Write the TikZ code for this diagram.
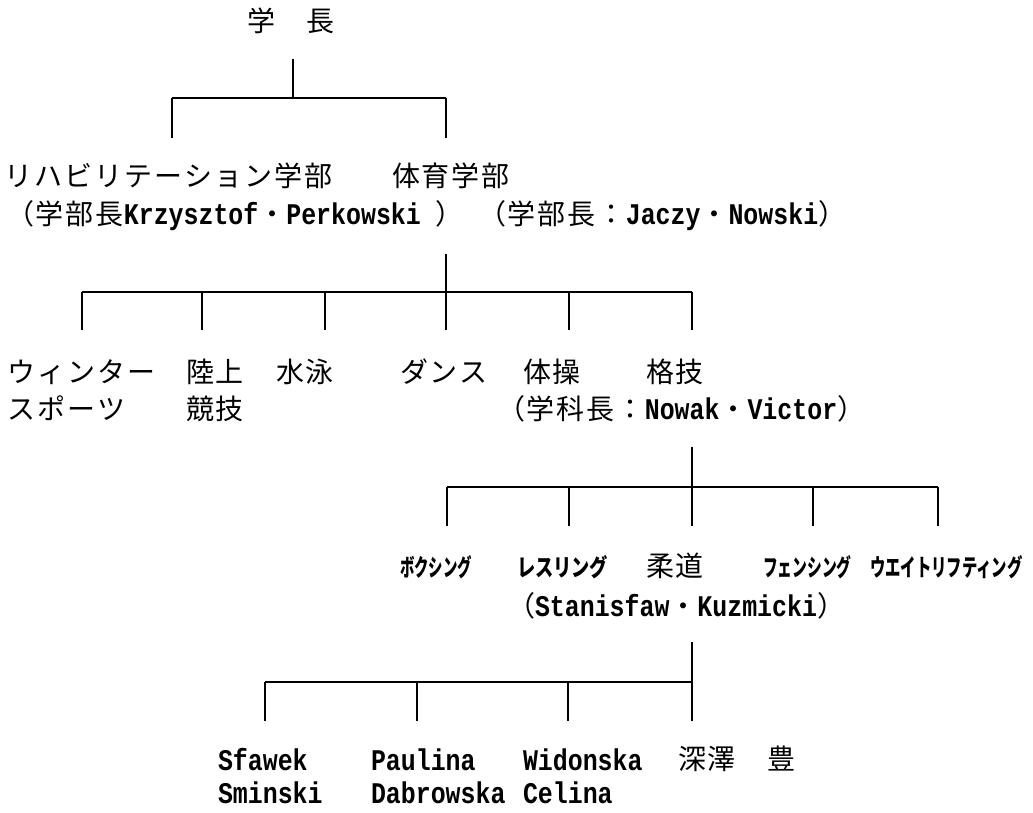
\documentclass[tikz,border=0pt]{standalone}
\usepackage{graphicx}
\usepackage{fontspec}
\newfontfamily\jpf[LetterSpace=7]{Noto Sans CJK JP}
\newfontfamily\jpk{Noto Sans CJK JP}
\newfontfamily\latf[FakeStretch=0.83]{Liberation Mono}
\newcommand\J[1]{{\jpf\fontsize{28}{30}\selectfont #1}}
\newcommand\LT[1]{{\latf\bfseries\fontsize{30}{32}\selectfont #1}}
\newcommand\KN[2]{\scalebox{#1}[1]{\jpk\bfseries\fontsize{24}{26}\selectfont #2}}
\begin{document}
\begin{tikzpicture}[x=1pt,y=-1pt,
  txt/.style={anchor=base west,inner sep=0pt,outer sep=0pt},
  bus/.style={draw=black,line width=1.3pt},
  drop/.style={draw=black,line width=2pt}]
\fill[white] (0,0) rectangle (1033,813);
\useasboundingbox (0,0) rectangle (1033,813);

% ---- level 0
\node[txt] (boss) at (247,32) {\J{学　長}};
\coordinate (b0) at (293,59);
\coordinate (j0) at (293,98);
\coordinate (a1) at (172,98);
\coordinate (a2) at (446,98);
\coordinate (e1) at (172,138);
\coordinate (e2) at (446,138);
\draw[drop] (b0) -- (j0);
\draw[bus] (a1) -- (a2);
\draw[drop] (a1) -- (e1);
\draw[drop] (a2) -- (e2);

% ---- level 1
\node[txt] (rehab) at (5,186) {\J{リハビリテーション学部}};
\node[txt] (rehabhead) at (6,225) {\J{（学部長}\LT{Krzysztof}\J{・}\LT{Perkowski }\J{）}};
\node[txt] (taiiku) at (392,186) {\J{体育学部}};
\node[txt] (taiikuhead) at (478,225) {\J{（学部長：}\LT{Jaczy}\J{・}\LT{Nowski}\J{）}};

\coordinate (t0) at (446,254);
\foreach \n/\x in {1/82,2/202,3/325,4/446,5/569,6/692} {
  \coordinate (u\n) at (\x,292);
  \coordinate (d\n) at (\x,330);
}
\draw[drop] (t0) -- (u4);
\draw[bus] (u1) -- (u6);
\foreach \n in {1,...,6} \draw[drop] (u\n) -- (d\n);

% ---- level 2
\node[txt] (winter) at (8,382) {\J{ウィンター}};
\node[txt] (winter2) at (8,419) {\J{スポーツ}};
\node[txt] (track) at (186,382) {\J{陸上}};
\node[txt] (track2) at (186,419) {\J{競技}};
\node[txt] (swim) at (276,382) {\J{水泳}};
\node[txt] (dance) at (400,382) {\J{ダンス}};
\node[txt] (gym) at (523,382) {\J{体操}};
\node[txt] (combat) at (646,382) {\J{格技}};
\node[txt] (combathead) at (497,419) {\J{（学科長：}\LT{Nowak}\J{・}\LT{Victor}\J{）}};

\coordinate (k0) at (692,447);
\foreach \n/\x in {1/447,2/569,3/692,4/813,5/938} {
  \coordinate (v\n) at (\x,487);
  \coordinate (f\n) at (\x,526);
}
\draw[drop] (k0) -- (v3);
\draw[bus] (v1) -- (v5);
\foreach \n in {1,...,5} \draw[drop] (v\n) -- (f\n);

% ---- level 3
\node[txt] (boxing) at (400,576) {\KN{0.6}{ボクシング}};
\node[txt] (wrestling) at (517,576) {\KN{0.76}{レスリング}};
\node[txt] (judo) at (646,576) {\J{柔道}};
\node[txt] (fencing) at (763,576) {\KN{0.615}{フェンシング}};
\node[txt] (weight) at (870,576) {\KN{0.64}{ウエイトリフティング}};
\node[txt] (judohead) at (507,616) {\J{（}\LT{Stanisfaw}\J{・}\LT{Kuzmicki}\J{）}};

\coordinate (m0) at (692,642);
\foreach \n/\x in {1/265,2/417,3/568,4/692} {
  \coordinate (w\n) at (\x,682);
  \coordinate (g\n) at (\x,721);
}
\draw[drop] (m0) -- (w4);
\draw[bus] (w1) -- (w4);
\foreach \n in {1,...,4} \draw[drop] (w\n) -- (g\n);

% ---- level 4
\node[txt] (sfawek) at (218,770) {\LT{Sfawek}};
\node[txt] (sminski) at (218,803) {\LT{Sminski}};
\node[txt] (paulina) at (371,770) {\LT{Paulina}};
\node[txt] (dabrowska) at (371,803) {\LT{Dabrowska}};
\node[txt] (widonska) at (523,770) {\LT{Widonska}};
\node[txt] (celina) at (523,803) {\LT{Celina}};
\node[txt] (fukazawa) at (678,769) {\J{深澤　豊}};
\end{tikzpicture}
\end{document}
